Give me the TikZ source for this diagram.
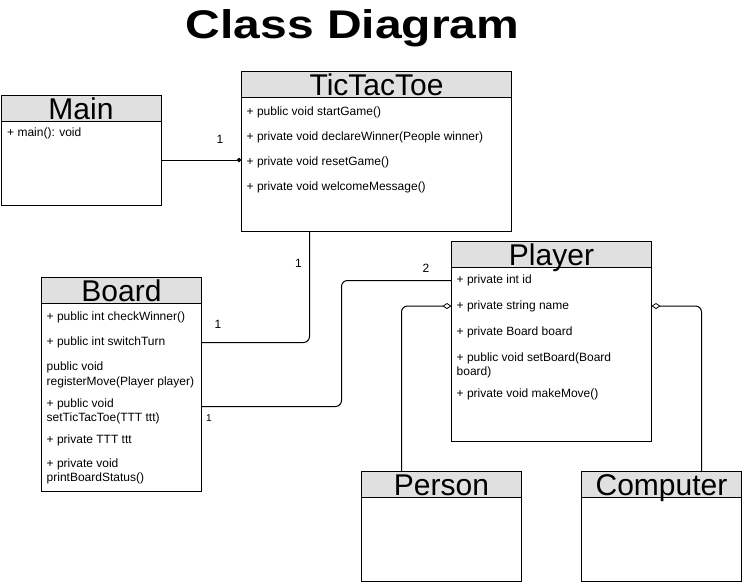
\documentclass[tikz,border=0pt]{standalone}
\usepackage{fontspec}
\setmainfont{Liberation Sans}
\usetikzlibrary{arrows.meta}
\definecolor{hdrgray}{HTML}{E0E0E0}
\tikzset{
  classbox/.style={draw=black, line width=1pt, fill=white, inner sep=0pt, outer sep=0pt, anchor=north west},
  hdr/.style={draw=black, line width=1pt, fill=hdrgray},
  clsname/.style={anchor=base, inner sep=0pt, font=\fontsize{30}{30}\selectfont},
  member/.style={anchor=base west, inner sep=0pt, font=\fontsize{12}{14.5}\selectfont},
  mult/.style={inner sep=0pt, font=\fontsize{12}{14}\selectfont},
  conn/.style={draw=black, line width=1pt, rounded corners=6pt},
  aggr/.style={conn, {Diamond[open,length=9pt,width=6pt,line width=0.8pt]}-},
  comp/.style={conn, -{Diamond[length=5pt,width=4.5pt]}}
}
\begin{document}
\begin{tikzpicture}[x=1pt,y=-1pt]
\useasboundingbox (0,0) rectangle (744,584);
% title
\node[inner sep=0pt, anchor=base, font=\bfseries\fontsize{40}{40}\selectfont] (title) at (352.5,38.3) {\scalebox{1.2}[1]{Class Diagram}};

% Main
\node[classbox, minimum width=160pt, minimum height=110pt] (main) at (1,95) {};
\draw[hdr] (main.north west) rectangle ([yshift=-26pt]main.north east);
\node[clsname] (mainT) at ([yshift=-24pt]main.north) {Main};
\node[member] (m1) at (7,136.5) {+ main(): void};

% TicTacToe
\node[classbox, minimum width=270pt, minimum height=160pt] (ttt) at (241.5,71.5) {};
\draw[hdr] (ttt.north west) rectangle ([yshift=-25.5pt]ttt.north east);
\node[clsname] (tttT) at ([yshift=-23.5pt]ttt.north) {TicTacToe};
\node[member] (t1) at (246.5,115) {+ public void startGame()};
\node[member] (t2) at (246.5,140.5) {+ private void declareWinner(People winner)};
\node[member] (t3) at (246.5,165) {+ private void resetGame()};
\node[member] (t4) at (246.5,190.5) {+ private void welcomeMessage()};

% Board
\node[classbox, minimum width=160pt, minimum height=214pt] (board) at (41.5,277) {};
\draw[hdr] (board.north west) rectangle ([yshift=-26pt]board.north east);
\node[clsname] (boardT) at ([yshift=-24pt]board.north) {Board};
\node[member] (b1) at (46.5,320) {+ public int checkWinner()};
\node[member] (b2) at (46.5,345) {+ public int switchTurn};
\node[member] (b3) at (46.5,370.5) {public void};
\node[member] (b4) at (46.5,385) {registerMove(Player player)};
\node[member] (b5) at (46.5,407.5) {+ public void};
\node[member] (b6) at (46.5,421) {setTicTacToe(TTT ttt)};
\node[member] (b7) at (46.5,443.5) {+ private TTT ttt};
\node[member] (b8) at (46.5,467.5) {+ private void};
\node[member] (b9) at (46.5,481.5) {printBoardStatus()};

% Player
\node[classbox, minimum width=200pt, minimum height=200pt] (player) at (451.5,241.5) {};
\draw[hdr] (player.north west) rectangle ([yshift=-25.5pt]player.north east);
\node[clsname] (playerT) at ([yshift=-23.5pt]player.north) {Player};
\node[member] (p1) at (456.5,283.5) {+ private int id};
\node[member] (p2) at (456.5,309.5) {+ private string name};
\node[member] (p3) at (456.5,335) {+ private Board board};
\node[member] (p4) at (456.5,361) {+ public void setBoard(Board};
\node[member] (p5) at (456.5,375) {board)};
\node[member] (p6) at (456.5,397.5) {+ private void makeMove()};

% Person
\node[classbox, minimum width=160pt, minimum height=110pt] (person) at (361.5,471.5) {};
\draw[hdr] (person.north west) rectangle ([yshift=-25.5pt]person.north east);
\node[clsname] (personT) at ([yshift=-23.5pt]person.north) {Person};

% Computer
\node[classbox, minimum width=160pt, minimum height=110pt] (computer) at (581.5,471.5) {};
\draw[hdr] (computer.north west) rectangle ([yshift=-25.5pt]computer.north east);
\node[clsname] (computerT) at ([yshift=-23.5pt]computer.north) {Computer};

% connectors
\draw[comp] ([yshift=-65pt]main.north east) -- ([yshift=-65pt]main.north east -| ttt.west);
\draw[conn] ([yshift=-65.5pt]board.north east) -| ([xshift=68pt]ttt.south west);
\draw[conn] ([yshift=-129.5pt]board.north east) -- ++(140,0) |- ([yshift=-39pt]player.north west);
\draw[aggr] ([yshift=-64.5pt]player.north west) -| ([xshift=40pt]person.north west);
\draw[aggr] ([yshift=-64.5pt]player.north east) -| ([xshift=120pt]computer.north west);

% multiplicities
\node[mult] (l1) at (220,139) {1};
\node[mult] (l2) at (298.5,263) {1};
\node[mult] (l3) at (218,324) {1};
\node[mult] (l4) at (426,268.5) {2};
\node[mult, font=\fontsize{10}{12}\selectfont] (l5) at (209,418) {1};
\end{tikzpicture}
\end{document}
